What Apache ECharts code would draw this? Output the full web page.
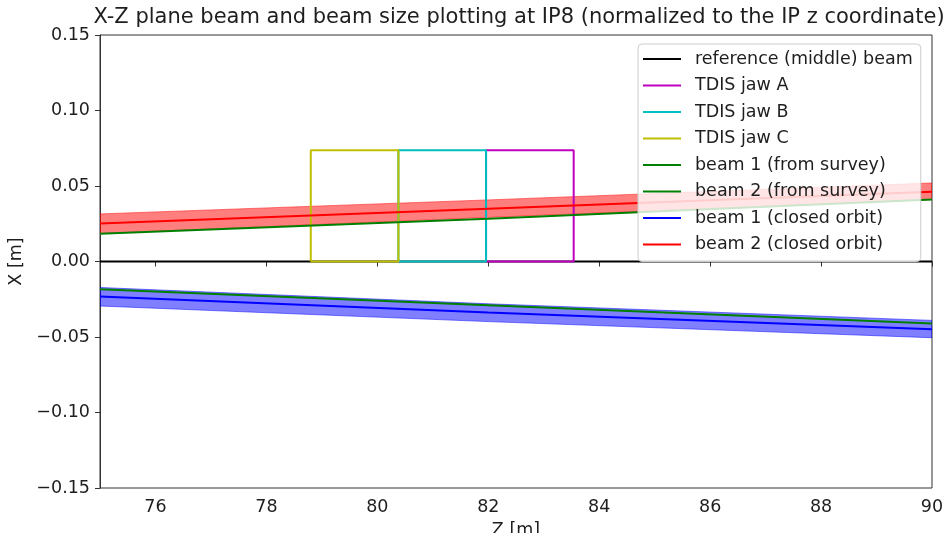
<!DOCTYPE html>
<html>
<head>
<meta charset="utf-8">
<script src="https://cdn.jsdelivr.net/npm/echarts@6/dist/echarts.min.js"></script>
<style>
html,body{margin:0;padding:0;background:#fff;}
#chart{width:951px;height:533px;}
</style>
</head>
<body>
<div id="chart"></div>
<script>
// ---- data ----
const zPoints = [75, 82, 90];
const refLine = [0, 0, 0];
const jawEdges = [78.80, 80.38, 81.96, 83.54]; // C | B | A boundaries
const jawTop = 0.0736;
const beam1Survey = [-0.0184, -0.0290, -0.0410];
const beam2Survey = [0.0184, 0.0283, 0.0410];
const beam1Orbit = [-0.0231, -0.0338, -0.0449];
const beam2Orbit = [0.0252, 0.0350, 0.0462];
const beam1Upper = [-0.0172, -0.0280, -0.0390];
const beam1Lower = [-0.0295, -0.0398, -0.0505];
const beam2Upper = [0.0315, 0.0408, 0.0520];
const beam2Lower = [0.0185, 0.0292, 0.0410];
const xTicks = [76, 78, 80, 82, 84, 86, 88, 90];
const yMin = -0.15, yMax = 0.15, yStep = 0.05;

const FONT = 'DejaVu Sans';
const TXT = '#1e1e1e';
const pairs = (xs, ys) => xs.map((x, i) => [x, ys[i]]);
const rect = (z0, z1, h) => [[z0, 0], [z0, h], [z1, h], [z1, 0], [z0, 0]];

function lineSeries(name, data, color, extra) {
  return Object.assign({
    name, type: 'line', data, symbol: 'none', silent: true,
    lineStyle: { color, width: 2 }, itemStyle: { color },
    emphasis: { disabled: true }, animation: false, z: 3
  }, extra || {});
}
function bandSeries(lower, upper, color) {
  const rows = zPoints.map((z, i) => [z, lower[i], upper[i]]);
  return {
    type: 'custom', silent: true, animation: false, z: 2,
    data: rows,
    encode: { x: 0, y: [1, 2] },
    renderItem: function (params, api) {
      if (params.dataIndex !== 0) return null;
      const pts = [];
      rows.forEach(r => pts.push(api.coord([r[0], r[2]])));
      for (let i = rows.length - 1; i >= 0; i--) pts.push(api.coord([rows[i][0], rows[i][1]]));
      return {
        type: 'polygon',
        shape: { points: pts },
        style: { fill: color, stroke: color, lineWidth: 1 },
        clipPath: { type: 'rect', shape: { x: params.coordSys.x, y: params.coordSys.y, width: params.coordSys.width, height: params.coordSys.height } }
      };
    }
  };
}

const chart = echarts.init(document.getElementById('chart'));
const legendNames = ['reference (middle) beam', 'TDIS jaw A', 'TDIS jaw B', 'TDIS jaw C',
  'beam 1 (from survey)', 'beam 2 (from survey)', 'beam 1 (closed orbit)', 'beam 2 (closed orbit)'];

chart.setOption({
  animation: false,
  textStyle: { fontFamily: FONT },
  title: {
    text: 'X-Z plane beam and beam size plotting at IP8 (normalized to the IP z coordinate)',
    left: 514, top: 2, textAlign: 'center',
    textStyle: { fontFamily: FONT, fontSize: 21, fontWeight: 'normal', color: TXT }
  },
  grid: { left: 100, right: 19, top: 35, bottom: 45, show: true, borderColor: '#333', borderWidth: 1,
          containLabel: false, outerBoundsMode: 'none' },
  legend: {
    orient: 'vertical', left: 638, top: 44,
    data: legendNames, icon: 'rect', itemWidth: 38, itemHeight: 2, itemGap: 8.5,
    padding: [6, 8, 8, 5],
    backgroundColor: 'rgba(255,255,255,0.8)', borderColor: '#cccccc', borderWidth: 1, borderRadius: 4,
    selectedMode: false,
    textStyle: { fontFamily: FONT, fontSize: 17.5, color: TXT, lineHeight: 18, padding: [0, 0, 0, 9] }
  },
  xAxis: {
    type: 'value', min: 75, max: 90,
    name: 'Z [m]', nameLocation: 'middle', nameGap: 33,
    nameTextStyle: { fontFamily: FONT, fontSize: 17.5, color: TXT },
    axisLine: { show: true, lineStyle: { color: '#333', width: 1 } },
    axisTick: { show: true, length: 5, customValues: xTicks, lineStyle: { color: '#333' } },
    axisLabel: { customValues: xTicks, fontFamily: FONT, fontSize: 17.5, color: TXT, margin: 10 },
    splitLine: { show: false }
  },
  yAxis: {
    type: 'value', min: yMin, max: yMax, interval: yStep,
    name: 'X [m]', nameLocation: 'middle', nameGap: 70, nameRotate: 90,
    nameTextStyle: { fontFamily: FONT, fontSize: 17.5, color: TXT },
    axisLine: { show: true, lineStyle: { color: '#333', width: 1 } },
    axisTick: { show: true, length: 5, lineStyle: { color: '#333' } },
    axisLabel: {
      fontFamily: FONT, fontSize: 17.5, color: TXT, margin: 10,
      formatter: v => (v < -1e-9 ? '\u2212' : '') + Math.abs(v).toFixed(2)
    },
    splitLine: { show: false }
  },
  series: [
    bandSeries(beam1Lower, beam1Upper, 'rgba(0,0,255,0.5)'),
    bandSeries(beam2Lower, beam2Upper, 'rgba(255,0,0,0.5)'),
    lineSeries('reference (middle) beam', pairs(zPoints, refLine), '#000000'),
    lineSeries('TDIS jaw A', rect(jawEdges[2], jawEdges[3], jawTop), '#bf00bf'),
    lineSeries('TDIS jaw B', rect(jawEdges[1], jawEdges[2], jawTop), '#00bfbf'),
    lineSeries('TDIS jaw C', rect(jawEdges[0], jawEdges[1], jawTop), '#bfbf00'),
    lineSeries('beam 1 (from survey)', pairs(zPoints, beam1Survey), '#008000'),
    lineSeries('beam 2 (from survey)', pairs(zPoints, beam2Survey), '#008000'),
    lineSeries('beam 1 (closed orbit)', pairs(zPoints, beam1Orbit), '#0000ff'),
    lineSeries('beam 2 (closed orbit)', pairs(zPoints, beam2Orbit), '#ff0000')
  ]
});
</script>
</body>
</html>
